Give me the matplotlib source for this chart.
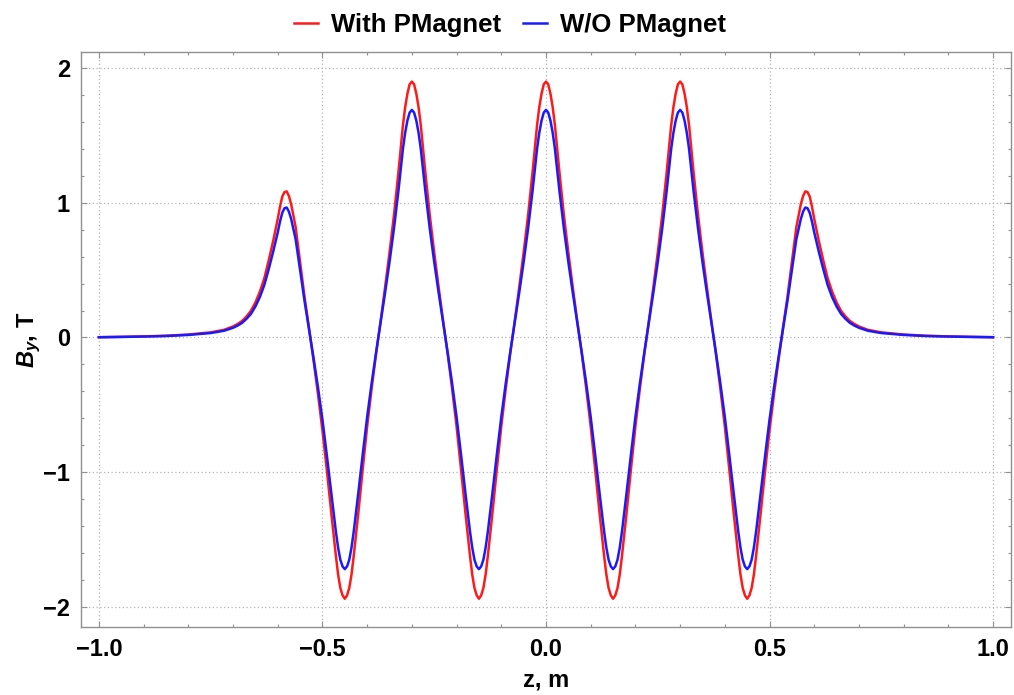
import numpy as np
import matplotlib
matplotlib.use("Agg")
import matplotlib.pyplot as plt
from matplotlib.ticker import MultipleLocator, FuncFormatter

z = [-1.00, -0.95, -0.90, -0.85, -0.80, -0.75, -0.72, -0.70, -0.69, -0.68,
     -0.67, -0.66, -0.65, -0.64, -0.63, -0.62, -0.61, -0.60, -0.595, -0.59,
     -0.585, -0.58, -0.575, -0.57, -0.56, -0.55, -0.54, -0.53, -0.52, -0.51,
     -0.50, -0.49, -0.48, -0.47, -0.465, -0.46, -0.455,
     -0.45, -0.445, -0.44, -0.435, -0.43, -0.42, -0.41, -0.40, -0.39, -0.38,
     -0.37, -0.36, -0.35, -0.34, -0.33, -0.32, -0.315, -0.31, -0.305, -0.30,
     -0.295, -0.29, -0.285, -0.28, -0.27, -0.26, -0.25, -0.24, -0.23, -0.22,
     -0.21, -0.20, -0.19, -0.18, -0.17, -0.165, -0.16, -0.155, -0.15,
     -0.145, -0.14, -0.135, -0.13, -0.12, -0.11, -0.10, -0.09, -0.08, -0.07,
     -0.06, -0.05, -0.04, -0.03, -0.02, -0.015, -0.01, -0.005, 0.00,
     0.005, 0.01, 0.015, 0.02, 0.03, 0.04, 0.05, 0.06, 0.07, 0.08,
     0.09, 0.10, 0.11, 0.12, 0.13, 0.135, 0.14, 0.145, 0.15,
     0.155, 0.16, 0.165, 0.17, 0.18, 0.19, 0.20, 0.21, 0.22, 0.23,
     0.24, 0.25, 0.26, 0.27, 0.28, 0.285, 0.29, 0.295, 0.30,
     0.305, 0.31, 0.315, 0.32, 0.33, 0.34, 0.35, 0.36, 0.37, 0.38,
     0.39, 0.40, 0.41, 0.42, 0.43, 0.435, 0.44, 0.445, 0.45,
     0.455, 0.46, 0.465, 0.47, 0.48, 0.49, 0.50,
     0.51, 0.52, 0.53, 0.54, 0.55, 0.56, 0.57, 0.575, 0.58, 0.585,
     0.59, 0.595, 0.60, 0.61, 0.62, 0.63, 0.64, 0.65, 0.66, 0.67,
     0.68, 0.69, 0.70, 0.72, 0.75, 0.80, 0.85, 0.90, 0.95, 1.00]

# B_y without the permanent magnet (T)
by_without = [0.002, 0.004, 0.007, 0.011, 0.019, 0.033, 0.050, 0.072, 0.088, 0.108,
              0.138, 0.175, 0.23, 0.30, 0.39, 0.51, 0.64, 0.78, 0.86, 0.925,
              0.96, 0.965, 0.935, 0.88, 0.73, 0.50, 0.27, 0.06, -0.15, -0.37,
              -0.61, -0.88, -1.16, -1.44, -1.56, -1.65, -1.70,
              -1.72, -1.70, -1.65, -1.56, -1.44, -1.16, -0.87, -0.59, -0.34, -0.11,
              0.11, 0.33, 0.56, 0.81, 1.09, 1.40, 1.52, 1.61, 1.67, 1.69,
              1.67, 1.61, 1.52, 1.40, 1.09, 0.81, 0.56, 0.33, 0.11, -0.11,
              -0.34, -0.59, -0.87, -1.16, -1.44, -1.56, -1.65, -1.70, -1.72,
              -1.70, -1.65, -1.56, -1.44, -1.16, -0.87, -0.59, -0.34, -0.11, 0.11,
              0.33, 0.56, 0.81, 1.09, 1.40, 1.52, 1.61, 1.67, 1.69,
              1.67, 1.61, 1.52, 1.40, 1.09, 0.81, 0.56, 0.33, 0.11, -0.11,
              -0.34, -0.59, -0.87, -1.16, -1.44, -1.56, -1.65, -1.70, -1.72,
              -1.70, -1.65, -1.56, -1.44, -1.16, -0.87, -0.59, -0.34, -0.11, 0.11,
              0.33, 0.56, 0.81, 1.09, 1.40, 1.52, 1.61, 1.67, 1.69,
              1.67, 1.61, 1.52, 1.40, 1.09, 0.81, 0.56, 0.33, 0.11, -0.11,
              -0.34, -0.59, -0.87, -1.16, -1.44, -1.56, -1.65, -1.70, -1.72,
              -1.70, -1.65, -1.56, -1.44, -1.16, -0.88, -0.61,
              -0.37, -0.15, 0.06, 0.27, 0.50, 0.73, 0.88, 0.935, 0.965, 0.96,
              0.925, 0.86, 0.78, 0.64, 0.51, 0.39, 0.30, 0.23, 0.175, 0.138,
              0.108, 0.088, 0.072, 0.050, 0.033, 0.019, 0.011, 0.007, 0.004, 0.002]

# B_y with the permanent magnet (T)
by_with = [0.002, 0.005, 0.008, 0.013, 0.022, 0.038, 0.057, 0.082, 0.100, 0.122,
           0.156, 0.198, 0.26, 0.34, 0.44, 0.575, 0.72, 0.88, 0.97, 1.045,
           1.08, 1.085, 1.05, 0.99, 0.82, 0.56, 0.30, 0.07, -0.17, -0.42,
           -0.69, -0.99, -1.31, -1.62, -1.76, -1.86, -1.915,
           -1.94, -1.915, -1.86, -1.76, -1.62, -1.31, -0.98, -0.66, -0.38, -0.12,
           0.12, 0.37, 0.63, 0.91, 1.23, 1.575, 1.71, 1.81, 1.88, 1.90,
           1.88, 1.81, 1.71, 1.575, 1.23, 0.91, 0.63, 0.37, 0.12, -0.12,
           -0.38, -0.66, -0.98, -1.31, -1.62, -1.76, -1.86, -1.915, -1.94,
           -1.915, -1.86, -1.76, -1.62, -1.31, -0.98, -0.66, -0.38, -0.12, 0.12,
           0.37, 0.63, 0.91, 1.23, 1.575, 1.71, 1.81, 1.88, 1.90,
           1.88, 1.81, 1.71, 1.575, 1.23, 0.91, 0.63, 0.37, 0.12, -0.12,
           -0.38, -0.66, -0.98, -1.31, -1.62, -1.76, -1.86, -1.915, -1.94,
           -1.915, -1.86, -1.76, -1.62, -1.31, -0.98, -0.66, -0.38, -0.12, 0.12,
           0.37, 0.63, 0.91, 1.23, 1.575, 1.71, 1.81, 1.88, 1.90,
           1.88, 1.81, 1.71, 1.575, 1.23, 0.91, 0.63, 0.37, 0.12, -0.12,
           -0.38, -0.66, -0.98, -1.31, -1.62, -1.76, -1.86, -1.915, -1.94,
           -1.915, -1.86, -1.76, -1.62, -1.31, -0.99, -0.69,
           -0.42, -0.17, 0.07, 0.30, 0.56, 0.82, 0.99, 1.05, 1.085, 1.08,
           1.045, 0.97, 0.88, 0.72, 0.575, 0.44, 0.34, 0.26, 0.198, 0.156,
           0.122, 0.100, 0.082, 0.057, 0.038, 0.022, 0.013, 0.008, 0.005, 0.002]

labels = ["With PMagnet", "W/O PMagnet"]

plt.rcParams["font.family"] = "Liberation Sans"
plt.rcParams["font.weight"] = "bold"
plt.rcParams["mathtext.fontset"] = "custom"
plt.rcParams["mathtext.it"] = "Liberation Sans:italic:bold"
plt.rcParams["mathtext.rm"] = "Liberation Sans:bold"

fig = plt.figure(figsize=(10.14, 6.95), dpi=100)
ax = fig.add_axes([0.0799, 0.0978, 0.9171, 0.8274])

ax.plot(z, by_with, color="#ff1a1a", linewidth=1.8, label=labels[0])
ax.plot(z, by_without, color="#1a1aff", linewidth=1.8, label=labels[1])

ax.set_xlim(-1.04, 1.04)
ax.set_ylim(-2.15, 2.12)

ax.xaxis.set_major_locator(MultipleLocator(0.5))
ax.xaxis.set_minor_locator(MultipleLocator(0.1))
ax.yaxis.set_major_locator(MultipleLocator(1))
ax.yaxis.set_minor_locator(MultipleLocator(0.2))
ax.xaxis.set_major_formatter(FuncFormatter(lambda v, p: f"{v:.1f}".replace("-", "\u2212")))
ax.yaxis.set_major_formatter(FuncFormatter(lambda v, p: f"{v:.0f}".replace("-", "\u2212")))

ax.grid(True, which="major", color="#b4b4b4", linestyle=(0, (1, 2)), linewidth=0.9)
ax.tick_params(which="both", direction="in", top=True, right=True, color="#909090", width=0.8)
ax.tick_params(which="major", length=4.5, labelsize=17, pad=8)
ax.tick_params(which="minor", length=2.5)
for s in ax.spines.values():
    s.set_color("#909090")
    s.set_linewidth(1.0)

ax.set_xlabel("z, m", fontsize=17, fontweight="bold", labelpad=5)
ax.set_ylabel(r"$B_y$, T", fontsize=17, fontweight="bold")
ax.yaxis.set_label_coords(-0.041, 0.5)

fig.legend(loc="upper center", bbox_to_anchor=(0.503, 1.015), ncol=2, frameon=False,
           fontsize=18.5, handlelength=0.95, handletextpad=0.5, columnspacing=0.85)

fig.savefig("out.png", dpi=100)
